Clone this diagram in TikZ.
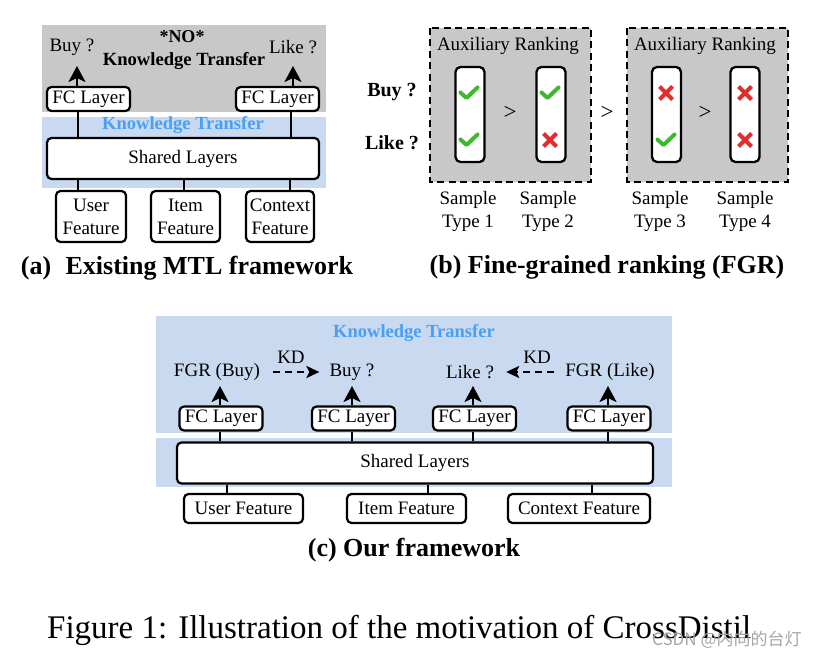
\documentclass[tikz,border=0pt]{standalone}
\usepackage{fontspec}
\setmainfont{Liberation Serif}
\newfontfamily\cjkfont{Noto Sans CJK SC}
\usetikzlibrary{arrows.meta}
\newcommand{\fsz}[2]{\fontsize{#1}{#2}\selectfont}
\definecolor{bggray}{RGB}{200,200,200}
\definecolor{bgblue}{RGB}{200,217,240}
\definecolor{ktblue}{RGB}{72,160,245}
\definecolor{okgreen}{RGB}{60,185,45}
\definecolor{nored}{RGB}{225,45,45}
\definecolor{wmgray}{RGB}{165,165,165}
\tikzset{
  box/.style={draw, line width=2.2pt, rounded corners=4.5pt, fill=white, inner sep=0pt, font=\fsz{19}{23}, align=center},
  fcbox/.style={box, minimum width=83pt, minimum height=24pt},
  smpbox/.style={draw, line width=2.3pt, rounded corners=5pt, fill=white, minimum width=29pt, minimum height=95pt, inner sep=0pt},
  lbl/.style={inner sep=0pt, font=\fsz{19}{23}, align=center},
  qlbl/.style={inner sep=0pt, font=\fsz{23}{26}},
  bqlbl/.style={inner sep=0pt, font=\fsz{20}{24}\bfseries},
  ktlbl/.style={inner sep=0pt, font=\fsz{18.5}{22}\bfseries, text=ktblue},
  captxt/.style={inner sep=0pt, font=\fsz{26}{30}\bfseries},
  conn/.style={line width=2.3pt},
  arr/.style={line width=2.4pt, -{Stealth[length=16pt,width=17pt,inset=4pt]}},
  kdarr/.style={line width=2.6pt, dash pattern=on 7pt off 5pt, -{Stealth[length=13pt,width=12pt,inset=3pt]}},
  dbox/.style={draw, fill=bggray, line width=2.4pt, dash pattern=on 7pt off 4.5pt},
  pics/chkmark/.style={code={\draw[okgreen, line width=4pt, line cap=round, line join=round] (-8.5,-0.5) -- (-2.5,5) -- (8.5,-5.5);}},
  pics/crossmark/.style={code={\draw[nored, line width=4.2pt] (-6.5,-6.5) -- (6.5,6.5) (-6.5,6.5) -- (6.5,-6.5);}}
}
\begin{document}
\begin{tikzpicture}[x=1pt, y=-1pt]
\useasboundingbox (0,0) rectangle (839,658);

% ================= (a) =================
\fill[bggray] (42,25) rectangle (326,112);
\fill[bgblue] (42,117) rectangle (326,188);

\node[lbl] (buyA) at (72,47) {Buy ?};
\node[lbl] (likeA) at (293,47) {Like ?};
\node[lbl, font=\fsz{18}{22}\bfseries] (noA) at (182,37) {*NO*};
\node[lbl, font=\fsz{18.6}{22}\bfseries] (nktA) at (184,61) {Knowledge Transfer};
\node[ktlbl] (ktA) at (183,125) {Knowledge Transfer};

\node[fcbox] (fcA1) at (88.5,99) {FC Layer};
\node[fcbox] (fcA2) at (277.5,99) {FC Layer};
\node[box, minimum width=272pt, minimum height=41pt] (shA) at (183,158.5) {Shared Layers};
\node[box, minimum width=70pt, minimum height=51pt] (uA) at (91,216.5) {User\\Feature};
\node[box, minimum width=69pt, minimum height=51pt] (iA) at (185.5,216.5) {Item\\Feature};
\node[box, minimum width=68pt, minimum height=51pt] (cA) at (280,216.5) {Context\\Feature};

\coordinate (tA1) at (77,66);
\coordinate (tA2) at (293,66);
\draw[arr] (fcA1.north -| tA1) -- (tA1);
\draw[arr] (fcA2.north -| tA2) -- (tA2);
\draw[conn] (fcA1.south -| 78,0) -- (shA.north -| 78,0);
\draw[conn] (fcA2.south -| 291,0) -- (shA.north -| 291,0);
\draw[conn] (shA.south -| 78,0) -- (uA.north -| 78,0);
\draw[conn] (shA.south -| 184,0) -- (iA.north -| 184,0);
\draw[conn] (shA.south -| 290,0) -- (cA.north -| 290,0);

\node[captxt] (capA) at (187,268) {(a)\hspace{0.55em}Existing MTL framework};

% ================= (b) =================
\draw[dbox] (430,28) rectangle (591,182);
\draw[dbox] (627,28) rectangle (788,182);
\node[lbl] (auxL) at (508,46) {Auxiliary Ranking};
\node[lbl] (auxR) at (705,46) {Auxiliary Ranking};

\node[smpbox] (s1) at (470,114.5) {};
\node[smpbox] (s2) at (551,114.5) {};
\node[smpbox] (s3) at (666.5,114.5) {};
\node[smpbox] (s4) at (745,114.5) {};

\pic at (469,93) {chkmark};
\pic at (469,140) {chkmark};
\pic at (550,93) {chkmark};
\pic at (550,140) {crossmark};
\pic at (666,93) {crossmark};
\pic at (666,140) {chkmark};
\pic at (745,93) {crossmark};
\pic at (745,140) {crossmark};

\node[qlbl] (gt1) at (510,113) {>};
\node[qlbl] (gt2) at (607,113) {>};
\node[qlbl] (gt3) at (705,113) {>};

\node[bqlbl] (buyB) at (392,92) {Buy ?};
\node[bqlbl] (likeB) at (392,143) {Like ?};

\node[lbl] (st1) at (468,211.5) {Sample\\Type 1};
\node[lbl] (st2) at (548,211.5) {Sample\\Type 2};
\node[lbl] (st3) at (660,211.5) {Sample\\Type 3};
\node[lbl] (st4) at (745,211.5) {Sample\\Type 4};

\node[captxt] (capB) at (607,267) {(b) Fine-grained ranking (FGR)};

% ================= (c) =================
\fill[bgblue] (156,316) rectangle (672,433);
\fill[bgblue] (156,438) rectangle (672,487);
\node[ktlbl] (ktC) at (414,333) {Knowledge Transfer};

\node[lbl] (fgrB) at (217,372) {FGR (Buy)};
\node[lbl] (buyC) at (352,372) {Buy ?};
\node[lbl] (likeC) at (470,372) {Like ?};
\node[lbl] (fgrL) at (610,372) {FGR (Like)};
\node[lbl] (kd1) at (291,357) {KD};
\node[lbl] (kd2) at (537,357) {KD};
\draw[kdarr, shorten <=13pt, shorten >=10pt] (fgrB.east) -- (buyC.west |- fgrB.east);
\draw[kdarr, shorten <=11pt, shorten >=12pt] (fgrL.west) -- (likeC.east |- fgrL.west);

\node[fcbox] (fcC1) at (221,418.5) {FC Layer};
\node[fcbox] (fcC2) at (353.5,418.5) {FC Layer};
\node[fcbox] (fcC3) at (474.5,418.5) {FC Layer};
\node[fcbox] (fcC4) at (609,418.5) {FC Layer};
\node[box, minimum width=476pt, minimum height=41pt] (shC) at (415,463) {Shared Layers};
\node[box, minimum width=119pt, minimum height=29pt] (uC) at (243.5,508.5) {User Feature};
\node[box, minimum width=119pt, minimum height=29pt] (iC) at (406.5,508.5) {Item Feature};
\node[box, minimum width=142pt, minimum height=29pt] (cC) at (579,508.5) {Context Feature};

\coordinate (tC1) at (220,386);
\coordinate (tC2) at (352,386);
\coordinate (tC3) at (473,386);
\coordinate (tC4) at (608,386);
\draw[arr] (fcC1.north -| tC1) -- (tC1);
\draw[arr] (fcC2.north -| tC2) -- (tC2);
\draw[arr] (fcC3.north -| tC3) -- (tC3);
\draw[arr] (fcC4.north -| tC4) -- (tC4);
\draw[conn] (fcC1.south -| tC1) -- (shC.north -| tC1);
\draw[conn] (fcC2.south -| tC2) -- (shC.north -| tC2);
\draw[conn] (fcC3.south -| tC3) -- (shC.north -| tC3);
\draw[conn] (fcC4.south -| tC4) -- (shC.north -| tC4);
\draw[conn] (shC.south -| 227,0) -- (uC.north -| 227,0);
\draw[conn] (shC.south -| 428,0) -- (iC.north -| 428,0);
\draw[conn] (shC.south -| 592,0) -- (cC.north -| 592,0);

\node[captxt] (capC) at (414,550) {(c) Our framework};

% ================= figure caption =================
\node[inner sep=0pt, anchor=base west, font=\fsz{33}{38}] (figcap) at (47,638) {Figure 1: Illustration of the motivation of CrossDistil};
\node[inner sep=0pt, anchor=west, font=\fsz{17}{20}\cjkfont, text=wmgray] (wm) at (652,640) {CSDN @内向的台灯};
\end{tikzpicture}
\end{document}
